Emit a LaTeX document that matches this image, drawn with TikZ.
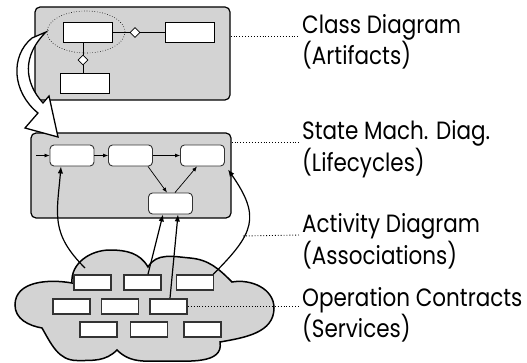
\documentclass[tikz,border=0pt]{standalone}
\usepackage{fontspec}
\setmainfont[FakeStretch=0.86]{Poppins}
\usetikzlibrary{arrows.meta,shapes.geometric,positioning}
\definecolor{panelgray}{HTML}{D3D3D3}
\begin{document}
\begin{tikzpicture}[x=1pt,y=1pt,
  panel/.style={draw,line width=1.2pt,fill=panelgray,rounded corners=5pt,inner sep=0pt},
  classbox/.style={draw,line width=0.9pt,fill=white,minimum width=49pt,minimum height=20pt,inner sep=0pt},
  agg/.style={draw,diamond,fill=white,line width=0.7pt,minimum size=10pt,inner sep=0pt},
  statebox/.style={draw=black!80,line width=0.9pt,fill=white,rounded corners=4pt,minimum width=44pt,minimum height=21pt,inner sep=0pt},
  brick/.style={draw=black!80,line width=1.6pt,fill=white,minimum width=37pt,minimum height=15pt,inner sep=0pt},
  trans/.style={-{Latex[length=5pt,width=4pt]},line width=0.7pt},
  link/.style={-{Latex[length=7pt,width=5.5pt]},line width=1.2pt},
  leader/.style={dotted,line width=0.9pt},
  lbl/.style={anchor=base west,align=left,inner sep=0pt,font=\fontsize{25}{29}\selectfont}
]
\useasboundingbox (0,0) rectangle (527,362);

% Class diagram (artifacts)
\node[panel,minimum width=195pt,minimum height=93pt] (cd) at (132.5,308.5) {};
\node[draw,ellipse,dotted,line width=0.6pt,minimum width=78pt,minimum height=42pt] (focus) at (86,330) {};
\node[classbox] (c1) at (87.5,329.5) {};
\node[agg] (d1) at (135,329.5) {};
\node[classbox] (c2) at (189.5,329.5) {};
\node[agg] (d2) at (83,302) {};
\node[classbox] (c3) at (85,278.5) {};
\draw[line width=0.7pt] (c1) -- (d1) -- (c2);
\draw[line width=0.7pt] (c1.south -| d2) -- (d2.north);
\draw[line width=0.7pt] (d2.south) -- (c3.north -| d2);

% State machine diagram (lifecycles)
\node[panel,minimum width=200pt,minimum height=85pt] (smd) at (131,186.5) {};
\node[statebox] (s1) at (72,206.5) {};
\node[statebox] (s2) at (130.5,206.5) {};
\node[statebox] (s3) at (202.5,206.5) {};
\node[statebox] (s4) at (170.5,158.5) {};
\coordinate (init) at (36,206.5);
\draw[trans] (init) -- (s1);
\draw[trans] (s1) -- (s2);
\draw[trans] (s2) -- (s3);
\draw[trans] ([xshift=17.5pt]s2.south) -- ([xshift=-3.5pt]s4.north);
\draw[trans] ([xshift=4.5pt]s4.north) -- ([xshift=-5.5pt]s3.south);

% Hollow arrow from the class to its lifecycle
\draw[line width=1.3pt,fill=white,line join=miter]
  (46,330) -- (32,324) .. controls (10,306) and (12,270) .. (38,249)
  -- (25,234) -- (58,225) -- (49,266) -- (43,259)
  .. controls (24,280) and (22,306) .. (46,330) -- cycle;

% Operation contracts (services)
\draw[line width=1.5pt,fill=panelgray]
  (72,79) to[out=95,in=180] (110,112) to[out=0,in=120] (148,95)
  to[out=60,in=175] (190,104) to[out=-5,in=135] (232,80)
  to[out=10,in=90] (274,54) to[out=-90,in=10] (220,20)
  to[out=-80,in=0] (165,1) to[out=180,in=-45] (117,12)
  to[out=-135,in=0] (77,1.5) to[out=180,in=-60] (42,34)
  to[out=170,in=-90] (15,57) to[out=90,in=170] (72,79) -- cycle;
\foreach \name/\x/\y in {b11/92.5/79.5, b12/142.5/79.5, b13/195/79.5,
    b21/71.5/55.5, b22/120/55.5, b23/168.5/55.5,
    b31/98.5/32.5, b32/149/32.5, b33/202.5/32.5}
  \node[brick] (\name) at (\x,\y) {};

% Activity diagram (associations)
\coordinate (src) at (85,94);
\draw[link] (src) to[out=135,in=-95,looseness=1.2] ([xshift=-11pt]s1.south);
\draw[link] ([xshift=5.5pt]b12.north) -- ([xshift=-7.5pt]s4.south);
\draw[link] ([xshift=1.5pt]b23.north) -- ([xshift=7.5pt]s4.south);
\draw[link] ([xshift=-1pt]b13.north east) to[out=45,in=-55,looseness=1.4] ([shift={(3pt,-3pt)}]s3.south east);

% Labels (anchored at the baseline of the second line)
\node[lbl] (lcd) at (302,297) {Class Diagram\\(Artifacts)};
\node[lbl] (lsm) at (302,191) {State Mach. Diag.\\(Lifecycles)};
\node[lbl] (lact) at (302,98) {Activity Diagram\\(Associations)};
\node[lbl] (lop) at (302,25) {Operation Contracts\\(Services)};
\coordinate (actstart) at (243,126);
\draw[leader] (cd.east |- 0,326) -- ([shift={(-2pt,29pt)}]lcd.base west);
\draw[leader] (smd.east |- 0,220) -- ([shift={(-2pt,29pt)}]lsm.base west);
\draw[leader] (actstart) -- ([shift={(-2pt,29pt)}]lact.base west);
\draw[leader] (b23.east) -- ([xshift=-2pt]b23.east -| lop.west);
\end{tikzpicture}
\end{document}
